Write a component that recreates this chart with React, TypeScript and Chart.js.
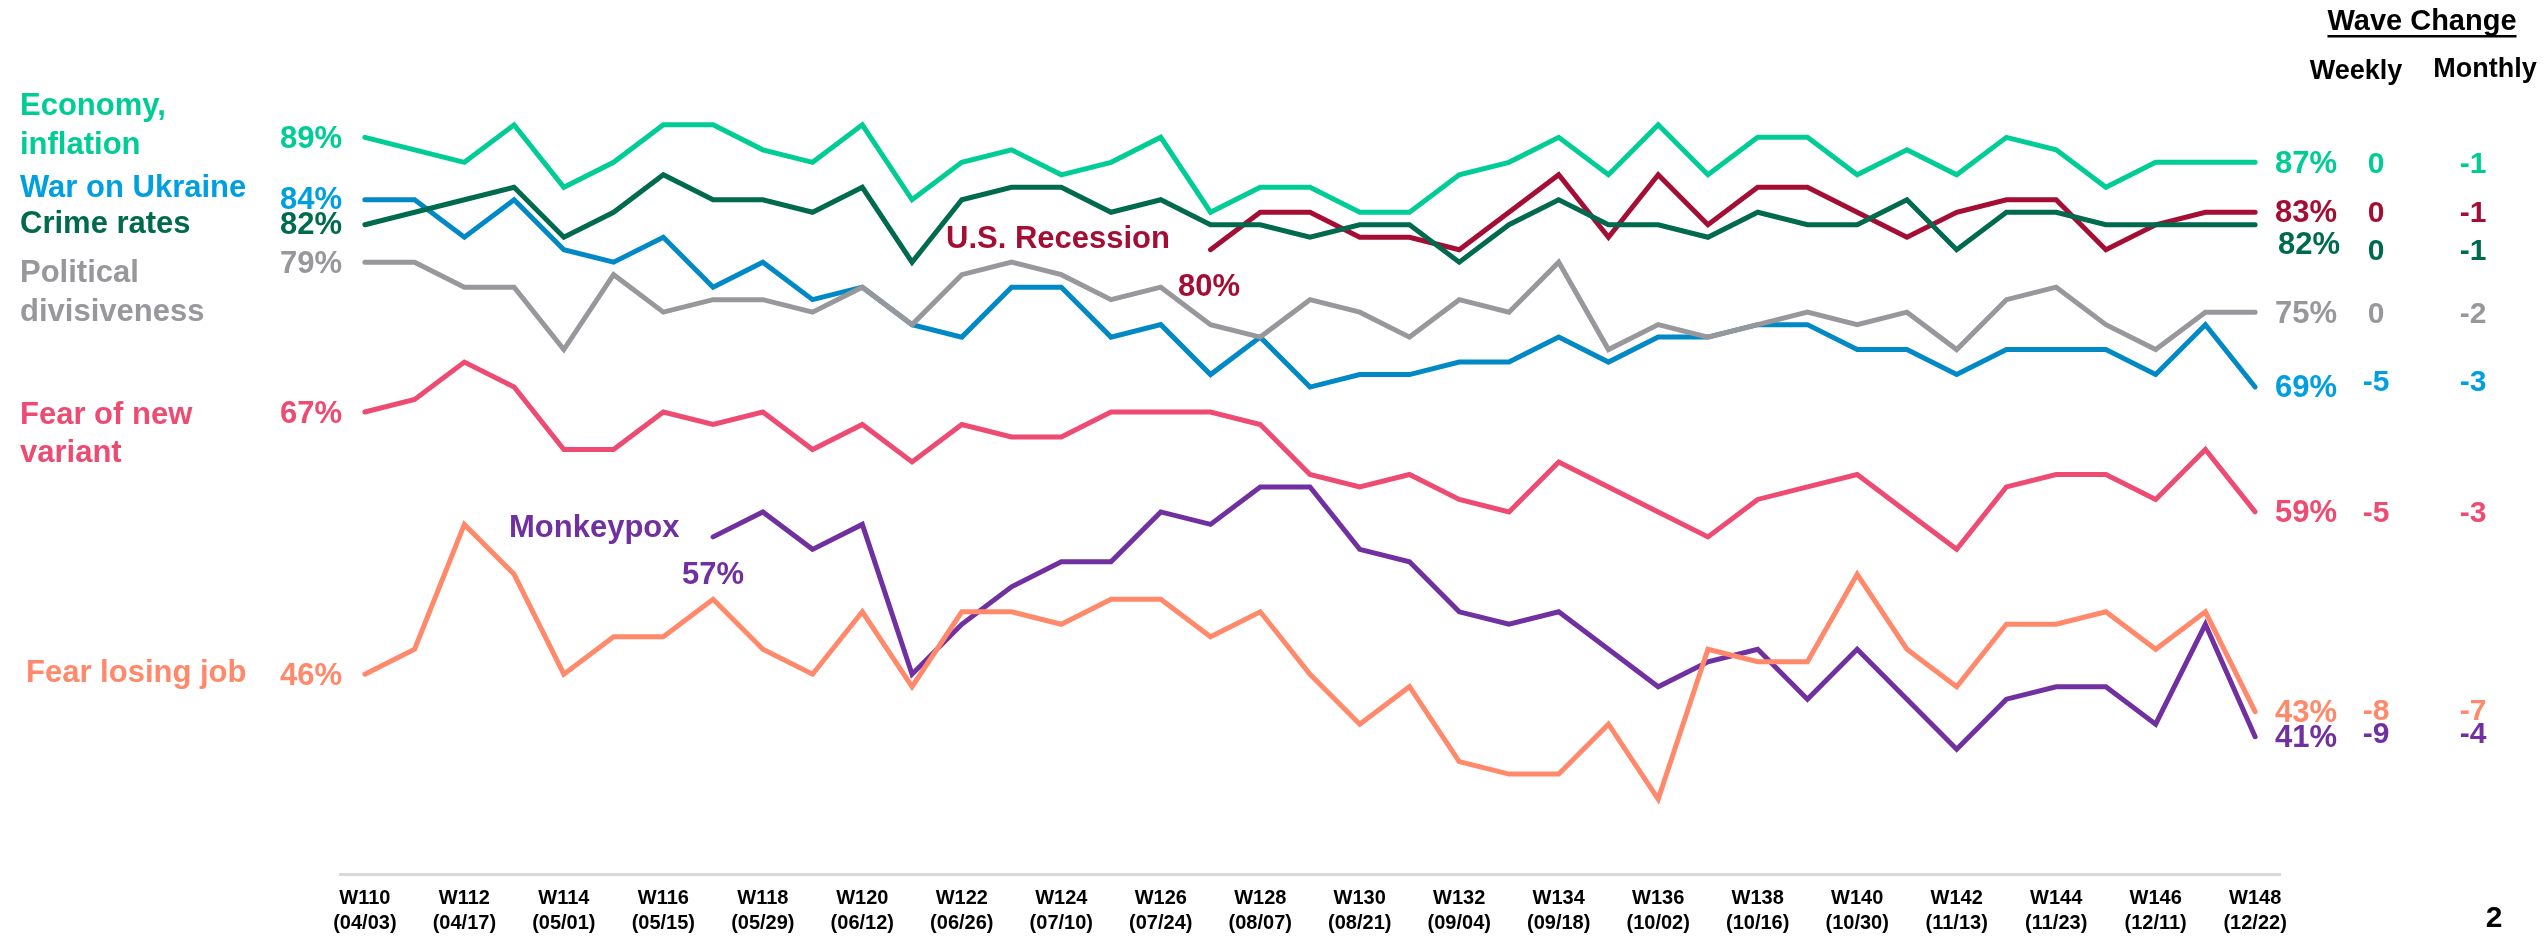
import React, { useEffect, useRef } from 'react';
import { Chart, registerables } from 'chart.js';

Chart.register(...registerables);

const FONT = '"Liberation Sans", Arial, Helvetica, sans-serif';

const weeks = [
  'W110', 'W111', 'W112', 'W113', 'W114', 'W115', 'W116', 'W117', 'W118', 'W119',
  'W120', 'W121', 'W122', 'W123', 'W124', 'W125', 'W126', 'W127', 'W128', 'W129',
  'W130', 'W131', 'W132', 'W133', 'W134', 'W135', 'W136', 'W137', 'W138', 'W139',
  'W140', 'W141', 'W142', 'W143', 'W144', 'W145', 'W146', 'W147', 'W148',
];

const tickDates = [
  '04/03', '04/17', '05/01', '05/15', '05/29', '06/12', '06/26', '07/10', '07/24', '08/07',
  '08/21', '09/04', '09/18', '10/02', '10/16', '10/30', '11/13', '11/23', '12/11', '12/22',
];

const economy = [89, 88, 87, 90, 85, 87, 90, 90, 88, 87, 90, 84, 87, 88, 86, 87, 89, 83, 85, 85, 83, 83, 86, 87, 89, 86, 90, 86, 89, 89, 86, 88, 86, 89, 88, 85, 87, 87, 87];
const crime = [82, 83, 84, 85, 81, 83, 86, 84, 84, 83, 85, 79, 84, 85, 85, 83, 84, 82, 82, 81, 82, 82, 79, 82, 84, 82, 82, 81, 83, 82, 82, 84, 80, 83, 83, 82, 82, 82, 82];
const recession = [null, null, null, null, null, null, null, null, null, null, null, null, null, null, null, null, null, 80, 83, 83, 81, 81, 80, 83, 86, 81, 86, 82, 85, 85, 83, 81, 83, 84, 84, 80, 82, 83, 83];
const political = [79, 79, 77, 77, 72, 78, 75, 76, 76, 75, 77, 74, 78, 79, 78, 76, 77, 74, 73, 76, 75, 73, 76, 75, 79, 72, 74, 73, 74, 75, 74, 75, 72, 76, 77, 74, 72, 75, 75];
const ukraine = [84, 84, 81, 84, 80, 79, 81, 77, 79, 76, 77, 74, 73, 77, 77, 73, 74, 70, 73, 69, 70, 70, 71, 71, 73, 71, 73, 73, 74, 74, 72, 72, 70, 72, 72, 72, 70, 74, 69];
const variant = [67, 68, 71, 69, 64, 64, 67, 66, 67, 64, 66, 63, 66, 65, 65, 67, 67, 67, 66, 62, 61, 62, 60, 59, 63, 61, 59, 57, 60, 61, 62, 59, 56, 61, 62, 62, 60, 64, 59];
const losingJob = [46, 48, 58, 54, 46, 49, 49, 52, 48, 46, 51, 45, 51, 51, 50, 52, 52, 49, 51, 46, 42, 45, 39, 38, 38, 42, 36, 48, 47, 47, 54, 48, 45, 50, 50, 51, 48, 51, 43];
const monkeypox = [null, null, null, null, null, null, null, 57, 59, 56, 58, 46, 50, 53, 55, 55, 59, 58, 61, 61, 56, 55, 51, 50, 51, 48, 45, 47, 48, 44, 48, 44, 40, 44, 45, 45, 42, 50, 41];

// Wave change columns (weekly, monthly) in the order of the right-hand rows:
// Economy, Recession, Crime, Political, Ukraine, Variant, Job, Monkeypox
const weeklyChange = ['0', '0', '0', '0', '-5', '-5', '-8', '-9'];
const monthlyChange = ['-1', '-1', '-1', '-2', '-3', '-3', '-7', '-4'];

const C = {
  economy: '#00CC96',
  crime: '#006A4E',
  recession: '#A50E34',
  political: '#98989C',
  ukraineLine: '#0089C5',
  ukraineText: '#00A0E0',
  variant: '#EE4B73',
  job: '#FF896A',
  monkeypox: '#7030A0',
};

export default function App() {
  const ref = useRef<HTMLCanvasElement | null>(null);

  useEffect(() => {
    const canvas = ref.current;
    if (!canvas) return;

    const mk = (data: (number | null)[], color: string) => ({
      data,
      borderColor: color,
      backgroundColor: color,
      borderWidth: 5,
      pointRadius: 0,
      tension: 0,
      fill: false,
      spanGaps: false,
      borderCapStyle: 'round' as const,
      borderJoinStyle: 'miter' as const,
      clip: false as any,
    });

    const textPlugin = {
      id: 'texts',
      afterDraw(chart: any) {
        const ctx = chart.ctx as CanvasRenderingContext2D;
        const T = (txt: string, x: number, y: number, color: string, align: CanvasTextAlign = 'left', size = 31) => {
          ctx.save();
          ctx.font = `bold ${size}px ${FONT}`;
          ctx.fillStyle = color;
          ctx.textAlign = align;
          ctx.textBaseline = 'alphabetic';
          ctx.fillText(txt, x, y);
          ctx.restore();
        };
        // left legend
        T('Economy,', 20, 115, C.economy);
        T('inflation', 20, 154, C.economy);
        T('War on Ukraine', 20, 197, C.ukraineText);
        T('Crime rates', 20, 233, C.crime);
        T('Political', 20, 282, C.political);
        T('divisiveness', 20, 321, C.political);
        T('Fear of new', 20, 424, C.variant);
        T('variant', 20, 462, C.variant);
        T('Fear losing job', 26, 682, C.job);
        // start values
        const first = (arr: (number | null)[]) => arr.find((v) => v !== null) as number;
        T(`${first(economy)}%`, 342, 148, C.economy, 'right');
        T(`${first(ukraine)}%`, 342, 209, C.ukraineText, 'right');
        T(`${first(crime)}%`, 342, 234, C.crime, 'right');
        T(`${first(political)}%`, 342, 273, C.political, 'right');
        T(`${first(variant)}%`, 342, 423, C.variant, 'right');
        T(`${first(losingJob)}%`, 342, 685, C.job, 'right');
        // in-chart labels
        T('U.S. Recession', 946, 248, C.recession);
        T(`${first(recession)}%`, 1178, 296, C.recession);
        T('Monkeypox', 509, 537, C.monkeypox);
        T(`${first(monkeypox)}%`, 682, 584, C.monkeypox);
        // right side: end values and wave change
        const last = (arr: (number | null)[]) => arr[arr.length - 1] as number;
        const rows: [string, number, string, number][] = [
          [`${last(economy)}%`, 173, C.economy, 173],
          [`${last(recession)}%`, 222, C.recession, 222],
          [`${last(crime)}%`, 254, C.crime, 260],
          [`${last(political)}%`, 323, C.political, 323],
          [`${last(ukraine)}%`, 397, C.ukraineText, 391],
          [`${last(variant)}%`, 522, C.variant, 522],
          [`${last(losingJob)}%`, 722, C.job, 720],
          [`${last(monkeypox)}%`, 747, C.monkeypox, 743],
        ];
        rows.forEach(([lab, y, color, yc], i) => {
          T(lab, i === 2 ? 2278 : 2275, y, color);
          T(weeklyChange[i], 2376, yc, color, 'center', 30);
          T(monthlyChange[i], 2473, yc, color, 'center', 30);
        });
        // header
        T('Wave Change', 2422, 30, '#000', 'center', 29);
        ctx.save();
        ctx.font = `bold 29px ${FONT}`;
        const w = ctx.measureText('Wave Change').width;
        ctx.fillStyle = '#000';
        ctx.fillRect(2422 - w / 2, 35, w, 2.5);
        ctx.restore();
        T('Weekly', 2356, 79, '#000', 'center', 27);
        T('Monthly', 2485, 77, '#000', 'center', 27);
        // page number
        T('2', 2494, 927, '#000', 'center', 30);
      },
    };

    const chart = new Chart(canvas, {
      type: 'line',
      data: {
        labels: weeks,
        datasets: [
          mk(economy, C.economy),
          mk(crime, C.crime),
          mk(recession, C.recession),
          mk(political, C.political),
          mk(ukraine, C.ukraineLine),
          mk(variant, C.variant),
          mk(losingJob, C.job),
          mk(monkeypox, C.monkeypox),
        ] as any,
      },
      options: {
        responsive: false,
        devicePixelRatio: 1,
        animation: false,
        events: [],
        layout: { padding: { left: 340, right: 264, top: 0, bottom: 0 } },
        plugins: { legend: { display: false }, tooltip: { enabled: false } },
        scales: {
          x: {
            type: 'category',
            offset: true,
            grid: { display: false },
            border: { display: true, color: '#D9D9D9', width: 3 },
            afterFit: (s: any) => {
              s.height = 62;
            },
            ticks: {
              autoSkip: false,
              maxRotation: 0,
              minRotation: 0,
              padding: 4,
              color: '#000',
              font: { family: FONT, size: 20, weight: 'bold', lineHeight: 1.25 },
              callback: (_v: any, i: number) => (i % 2 === 0 ? [weeks[i], `(${tickDates[i / 2]})`] : ''),
            },
          },
          y: { display: false, min: 30, max: 100 },
        },
      } as any,
      plugins: [textPlugin],
    });

    return () => chart.destroy();
  }, []);

  return (
    <div style={{ position: 'fixed', left: 0, top: 0, width: 2544, height: 936, background: '#fff' }}>
      <canvas ref={ref} width={2544} height={936} style={{ display: 'block', width: 2544, height: 936 }} />
    </div>
  );
}
